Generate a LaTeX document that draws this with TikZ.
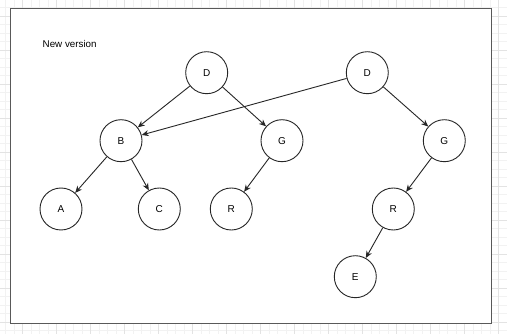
\documentclass[tikz,border=0pt]{standalone}
\usepackage{fontspec}
\setmainfont{Liberation Sans}
\usetikzlibrary{arrows.meta}

\begin{document}
\begin{tikzpicture}[
            x=1pt, y=-1pt,
            >={Stealth[length=7pt, width=6pt]},
            minor grid/.style={draw=black!5, line width=0.5pt},
            major grid/.style={draw=black!11, line width=0.6pt},
            frame/.style={draw=black!65, line width=1.1pt},
            tree node/.style={circle, draw=black!85, line width=0.9pt, minimum size=42pt, inner sep=0pt, font=\fontsize{10}{11}\selectfont},
            edge/.style={draw=black!85, line width=0.9pt, ->},
            caption/.style={anchor=west, inner sep=0pt, font=\fontsize{9.8}{11}\selectfont},
        ]
        \useasboundingbox (0,0) rectangle (507,334);

        % background grid
        \begin{scope}
            \clip (0,0) rectangle (507,334);
            \begin{scope}[shift={(22.7,16)}]
                \draw[minor grid] (-34,-34) grid[step=8.5pt] (510,340);
                \draw[major grid] (-34,-34) grid[step=34pt] (510,340);
            \end{scope}
        \end{scope}

        \fill[white] (10.7,8.7) rectangle (491.3,323.3);
        \draw[frame] (10.7,8.7) rectangle (491.3,323.3);

        \node[caption] (title) at (42.5,44) {New version};

        % old tree
        \node[tree node] (d1) at (206.7,72.7) {D};
        \node[tree node] (b) at (121,140.7) {B};
        \node[tree node] (g1) at (282,140.7) {G};
        \node[tree node] (a) at (61,209) {A};
        \node[tree node] (c) at (159.3,209) {C};
        \node[tree node] (r1) at (231.3,209) {R};

        % new tree
        \node[tree node] (d2) at (367.3,72.7) {D};
        \node[tree node] (g2) at (444.3,140.7) {G};
        \node[tree node] (r2) at (393.3,209) {R};
        \node[tree node] (e) at (355.3,276.7) {E};

        \draw[edge] (d1) -- (b);
        \draw[edge] (d1) -- (g1);
        \draw[edge] (b) -- (a);
        \draw[edge] (b) -- (c);
        \draw[edge] (g1) -- (r1);
        \draw[edge] (d2) -- (b);
        \draw[edge] (d2) -- (g2);
        \draw[edge] (g2) -- (r2);
        \draw[edge] (r2) -- (e);
        \end{tikzpicture}
\end{document}
